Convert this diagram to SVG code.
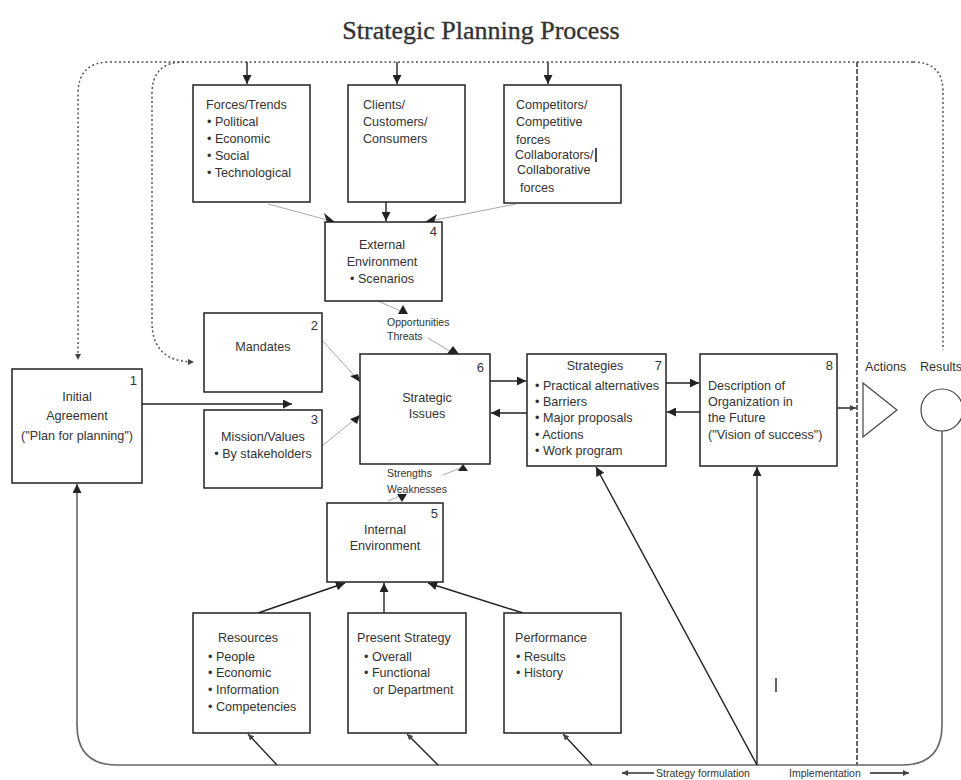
<svg xmlns="http://www.w3.org/2000/svg" width="961" height="780" viewBox="0 0 961 780">
<style>
.box{fill:#fff;stroke:#222;stroke-width:1.5}
.t{font-family:"Liberation Sans",Arial,sans-serif;font-size:12.6px;fill:#333}
.s{font-family:"Liberation Sans",Arial,sans-serif;font-size:10.5px;fill:#333}
.c{text-anchor:middle}
.num{font-family:"Liberation Sans",Arial,sans-serif;font-size:13px;fill:#333;text-anchor:end}
.dk{fill:none;stroke:#222;stroke-width:1.4}
.gr{fill:none;stroke:#aaa;stroke-width:1}
.dot{fill:none;stroke:#555;stroke-width:1.5;stroke-dasharray:2 2.5}
.dash{fill:none;stroke:#333;stroke-width:1.5;stroke-dasharray:5 2}
.loop{fill:none;stroke:#666;stroke-width:1.6}
</style>
<defs>
<marker id="ah" viewBox="0 0 10 10" refX="10" refY="5" markerWidth="11" markerHeight="9" markerUnits="userSpaceOnUse" orient="auto"><path d="M0,0 L10,5 L0,10 z" fill="#222"/></marker>
<marker id="ahs" viewBox="0 0 10 10" refX="10" refY="5" markerWidth="7" markerHeight="6" markerUnits="userSpaceOnUse" orient="auto"><path d="M0,0 L10,5 L0,10 z" fill="#444"/></marker>
</defs>
<rect width="961" height="780" fill="#fff"/>
<text x="481" y="39" font-family="'Liberation Serif','Times New Roman',serif" font-size="26" fill="#333" stroke="#333" stroke-width="0.35" text-anchor="middle">Strategic Planning Process</text>

<g id="connectors">
<path class="dot" d="M913,62 H110 Q78,62 78,94 V360" marker-end="url(#ahs)"/>
<path class="dot" d="M184,62 Q152,62 152,94 V322 Q152,362 194,362" marker-end="url(#ahs)"/>
<path class="dot" d="M913,62 Q943,62 943,92 V350"/>
<path class="dash" d="M857,62 V765"/>
<path class="dk" d="M247,62 V84" marker-end="url(#ah)"/>
<path class="dk" d="M397,62 V84" marker-end="url(#ah)"/>
<path class="dk" d="M548,62 V84" marker-end="url(#ah)"/>
<path class="gr" d="M268,204 L335,222"/>
<path d="M335,222 L324,213 L327,222 z" fill="#222"/>
<path class="dk" d="M386,202 V221" marker-end="url(#ah)"/>
<path class="gr" d="M516,204 L425,222"/>
<path d="M425,222 L437,214 L434,222 z" fill="#222"/>
<path class="gr" d="M378,301 L403,312"/>
<path d="M403,305 L398,314 L408,314 z" fill="#222"/>
<path class="gr" d="M428,338 L453,353"/>
<path d="M453,346 L447,354 L459,354 z" fill="#222"/>
<path class="gr" d="M322,340 L360,382"/>
<path d="M360,382 L350,376 L358,374 z" fill="#222"/>
<path class="gr" d="M322,446 L360,415"/>
<path d="M360,415 L357,424 L350,419 z" fill="#222"/>
<path class="dk" d="M142,404 H292" marker-end="url(#ah)"/>
<path class="dk" d="M490,381 H526" marker-end="url(#ah)"/>
<path class="dk" d="M527,413 H491" marker-end="url(#ah)"/>
<path class="dk" d="M666,383 H699" marker-end="url(#ah)"/>
<path class="dk" d="M700,412 H667" marker-end="url(#ah)"/>
<path class="dk" d="M837,408 H856" marker-end="url(#ahs)"/>
<path class="gr" d="M443,475 L463,467"/>
<path d="M463,464 L458,471 L468,471 z" fill="#222"/>
<path class="gr" d="M388,501 L402,495"/>
<path d="M402,502 L397,494 L407,494 z" fill="#222"/>
<path class="dk" d="M258,613 L345,583" marker-end="url(#ah)"/>
<path class="dk" d="M384,613 V583" marker-end="url(#ah)"/>
<path class="dk" d="M523,613 L428,583" marker-end="url(#ah)"/>
<path class="loop" d="M942,431 V725 Q942,765 902,765 H117 Q77,765 77,725 V484" marker-end="url(#ah)"/>
<path class="dk" d="M277,765 L248,734" marker-end="url(#ahs)"/>
<path class="dk" d="M438,765 L407,734" marker-end="url(#ahs)"/>
<path class="dk" d="M592,765 L563,734" marker-end="url(#ahs)"/>
<path class="dk" d="M757,765 L596,467" marker-end="url(#ah)"/>
<path class="dk" d="M757,765 V467" marker-end="url(#ah)"/>
<path class="dk" d="M776,678 V692"/>
<path class="dk" d="M654,773 H622" marker-end="url(#ahs)" stroke-width="1"/>
<path class="dk" d="M870,773 H909" marker-end="url(#ahs)" stroke-width="1"/>
</g>

<g id="n1">
<rect class="box" x="12" y="369" width="130" height="114"/>
<text class="num" x="137" y="385">1</text>
<text class="t c" x="77" y="401">Initial</text>
<text class="t c" x="77" y="420">Agreement</text>
<text class="t c" x="77" y="440">("Plan for planning")</text>
</g>
<g id="n2">
<rect class="box" x="204" y="313" width="118" height="79"/>
<text class="num" x="318" y="330">2</text>
<text class="t c" x="263" y="351">Mandates</text>
</g>
<g id="n3">
<rect class="box" x="204" y="410" width="118" height="78"/>
<text class="num" x="318" y="424">3</text>
<text class="t c" x="263" y="441">Mission/Values</text>
<text class="t c" x="263" y="458">• By stakeholders</text>
</g>
<g id="forces">
<rect class="box" x="193" y="85" width="117" height="117"/>
<text class="t" x="206" y="109">Forces/Trends</text>
<text class="t" x="207" y="126">• Political</text>
<text class="t" x="207" y="143">• Economic</text>
<text class="t" x="207" y="160">• Social</text>
<text class="t" x="207" y="177">• Technological</text>
</g>
<g id="clients">
<rect class="box" x="348" y="85" width="117" height="117"/>
<text class="t" x="363" y="109">Clients/</text>
<text class="t" x="363" y="126">Customers/</text>
<text class="t" x="363" y="143">Consumers</text>
</g>
<g id="competitors">
<rect class="box" x="504" y="85" width="117" height="118"/>
<text class="t" x="516" y="109">Competitors/</text>
<text class="t" x="516" y="126">Competitive</text>
<text class="t" x="516" y="144">forces</text>
<text class="t" x="515" y="159">Collaborators/</text>
<path d="M596,148 V162" stroke="#111" stroke-width="1.5"/>
<text class="t" x="517" y="174">Collaborative</text>
<text class="t" x="520" y="192">forces</text>
</g>
<g id="n4">
<rect class="box" x="325" y="222" width="117" height="79"/>
<text class="num" x="437" y="236">4</text>
<text class="t c" x="382" y="249">External</text>
<text class="t c" x="382" y="266">Environment</text>
<text class="t c" x="382" y="283">• Scenarios</text>
</g>
<g id="ot">
<text class="s" x="387" y="326">Opportunities</text>
<text class="s" x="387" y="340">Threats</text>
</g>
<g id="n6">
<rect class="box" x="360" y="354" width="130" height="110"/>
<text class="num" x="484" y="372">6</text>
<text class="t c" x="427" y="402">Strategic</text>
<text class="t c" x="427" y="418">Issues</text>
</g>
<g id="sw">
<text class="s" x="387" y="477">Strengths</text>
<text class="s" x="387" y="493">Weaknesses</text>
</g>
<g id="n7">
<rect class="box" x="527" y="354" width="139" height="112"/>
<text class="num" x="662" y="370">7</text>
<text class="t c" x="595" y="370">Strategies</text>
<text class="t" x="535" y="390">• Practical alternatives</text>
<text class="t" x="535" y="406">• Barriers</text>
<text class="t" x="535" y="422">• Major proposals</text>
<text class="t" x="535" y="439">• Actions</text>
<text class="t" x="535" y="455">• Work program</text>
</g>
<g id="n8">
<rect class="box" x="700" y="354" width="137" height="112"/>
<text class="num" x="833" y="370">8</text>
<text class="t" x="708" y="390">Description of</text>
<text class="t" x="708" y="406">Organization in</text>
<text class="t" x="708" y="422">the Future</text>
<text class="t" x="708" y="439">("Vision of success")</text>
</g>
<g id="actions">
<text class="t" x="865" y="371">Actions</text>
<polygon points="863,383 863,437 897,410" fill="#fff" stroke="#444" stroke-width="1.2"/>
</g>
<g id="results">
<text class="t" x="920" y="371">Results</text>
<circle cx="942" cy="410" r="21" fill="#fff" stroke="#444" stroke-width="1.2"/>
</g>
<g id="n5">
<rect class="box" x="327" y="503" width="116" height="79"/>
<text class="num" x="438" y="518">5</text>
<text class="t c" x="385" y="534">Internal</text>
<text class="t c" x="385" y="550">Environment</text>
</g>
<g id="resources">
<rect class="box" x="193" y="613" width="117" height="120"/>
<text class="t c" x="248" y="642">Resources</text>
<text class="t" x="208" y="661">• People</text>
<text class="t" x="208" y="677">• Economic</text>
<text class="t" x="208" y="694">• Information</text>
<text class="t" x="208" y="711">• Competencies</text>
</g>
<g id="present">
<rect class="box" x="348" y="613" width="118" height="120"/>
<text class="t c" x="404" y="642">Present Strategy</text>
<text class="t" x="364" y="661">• Overall</text>
<text class="t" x="364" y="677">• Functional</text>
<text class="t" x="373" y="694">or Department</text>
</g>
<g id="performance">
<rect class="box" x="504" y="613" width="117" height="120"/>
<text class="t" x="515" y="642">Performance</text>
<text class="t" x="516" y="661">• Results</text>
<text class="t" x="516" y="677">• History</text>
</g>
<g id="legend">
<text class="s" x="656" y="777">Strategy formulation</text>
<text class="s" x="789" y="777">Implementation</text>
</g>
</svg>
